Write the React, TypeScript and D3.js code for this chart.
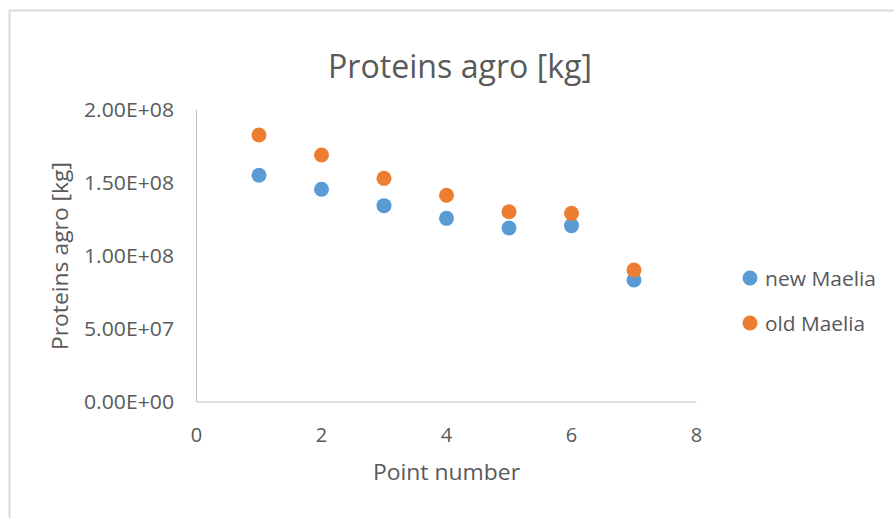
import React from "react";
import * as d3 from "d3";

const pointNumbers = [1, 2, 3, 4, 5, 6, 7];
const newMaelia = [1.553e8, 1.457e8, 1.345e8, 1.258e8, 1.192e8, 1.208e8, 0.836e8];
const oldMaelia = [1.829e8, 1.692e8, 1.532e8, 1.416e8, 1.303e8, 1.292e8, 0.904e8];
const xTicks = [0, 2, 4, 6, 8];
const yTicks = [0, 5e7, 1e8, 1.5e8, 2e8];
const yTickLabels = ["0.00E+00", "5.00E+07", "1.00E+08", "1.50E+08", "2.00E+08"];
const seriesNames = ["new Maelia", "old Maelia"];
const colors = ["#5b9bd5", "#ed7d31"];

const W = 894;
const H = 518;
const FONT = "'Open Sans', 'Noto Sans', sans-serif";
const TXT = "#595959";

export default function App() {
  const x = d3.scaleLinear().domain([0, 8]).range([196.5, 696.5]);
  const y = d3.scaleLinear().domain([0, 2e8]).range([402, 110]);
  const series = [newMaelia, oldMaelia];
  const legendLen = [111, 100];

  return (
    <svg
      width={W}
      height={H}
      style={{ position: "absolute", left: 0, top: 0, background: "#fff" }}
      fontFamily={FONT}
    >
      <rect x={0} y={0} width={W} height={H} fill="#fff" />
      <rect x={9.5} y={10.5} width={W + 20} height={H + 20} fill="none" stroke="#d9d9d9" strokeWidth={2} />
      <text x={328} y={78} fontSize={32} fill={TXT} textLength={264} lengthAdjust="spacingAndGlyphs">
        Proteins agro [kg]
      </text>
      {/* axes */}
      <line x1={x(0)} x2={x(0)} y1={y(2e8)} y2={y(0)} stroke="#bfbfbf" strokeWidth={1} />
      <line x1={x(0)} x2={x(8)} y1={y(0)} y2={y(0)} stroke="#bfbfbf" strokeWidth={1} />
      {yTicks.map((t, i) => (
        <text
          key={t}
          x={84}
          y={y(t)}
          dy="0.36em"
          fontSize={19.5}
          textLength={90}
          lengthAdjust="spacingAndGlyphs"
          fill={TXT}
        >
          {yTickLabels[i]}
        </text>
      ))}
      {xTicks.map((t) => (
        <text key={t} x={x(t)} y={442} textAnchor="middle" fontSize={20} fill={TXT}>
          {t}
        </text>
      ))}
      <text x={373} y={480} fontSize={22} fill={TXT} textLength={147} lengthAdjust="spacingAndGlyphs">
        Point number
      </text>
      <text
        transform={`translate(68,350) rotate(-90)`}
        fontSize={22}
        fill={TXT}
        textLength={188}
        lengthAdjust="spacingAndGlyphs"
      >
        Proteins agro [kg]
      </text>
      {series.map((s, si) =>
        s.map((v, i) => (
          <circle key={`${si}-${i}`} cx={x(pointNumbers[i])} cy={y(v)} r={7.5} fill={colors[si]} />
        ))
      )}
      {seriesNames.map((n, i) => (
        <g key={n} transform={`translate(750,${278 + i * 45})`}>
          <circle cx={0} cy={0} r={7.5} fill={colors[i]} />
          <text x={15} y={8} fontSize={20} textLength={legendLen[i]} lengthAdjust="spacingAndGlyphs" fill={TXT}>
            {n}
          </text>
        </g>
      ))}
    </svg>
  );
}
